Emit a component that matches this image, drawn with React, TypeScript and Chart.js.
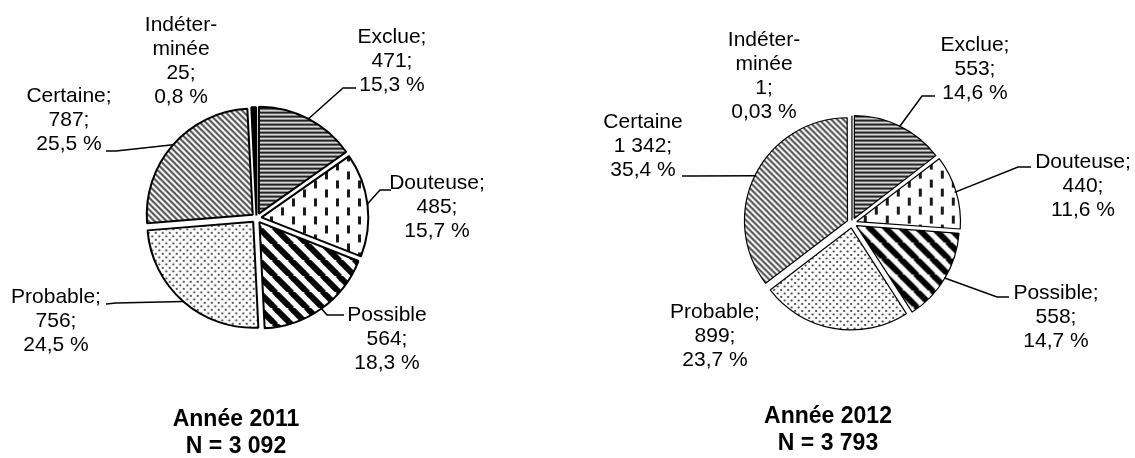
import React, { useEffect, useRef } from "react";
import { Chart, registerables } from "chart.js";

Chart.register(...registerables);

// ---------- DATA ----------
const categories = ["Exclue", "Douteuse", "Possible", "Probable", "Certaine", "Indéterminée"];
const values2011 = [471, 485, 564, 756, 787, 25];
const values2012 = [553, 440, 558, 899, 1342, 1];
const labels2011 = [
  ["Exclue;", "471;", "15,3 %"],
  ["Douteuse;", "485;", "15,7 %"],
  ["Possible", "564;", "18,3 %"],
  ["Probable;", "756;", "24,5 %"],
  ["Certaine;", "787;", "25,5 %"],
  ["Indéter-", "minée", "25;", "0,8 %"],
];
const labels2012 = [
  ["Exclue;", "553;", "14,6 %"],
  ["Douteuse;", "440;", "11,6 %"],
  ["Possible;", "558;", "14,7 %"],
  ["Probable;", "899;", "23,7 %"],
  ["Certaine", "1 342;", "35,4 %"],
  ["Indéter-", "minée", "1;", "0,03 %"],
];
const titles2011 = ["Année 2011", "N = 3 092"];
const titles2012 = ["Année 2012", "N = 3 793"];

// ---------- LAYOUT (positions only) ----------
type LabelPos = { x: number; y: number; leader: number[] | null };
const layout2011: LabelPos[] = [
  { x: 392, y: 37, leader: [356, 88, 343, 88] },
  { x: 437, y: 183, leader: [391, 190, 380, 190] },
  { x: 387, y: 315, leader: [344, 315, 327, 315] },
  { x: 56, y: 297, leader: [106, 304, 116, 303] },
  { x: 69, y: 96, leader: [106, 151, 116, 151] },
  { x: 181, y: 25, leader: null },
];
const layout2012: LabelPos[] = [
  { x: 975, y: 45, leader: [935, 96, 922, 96] },
  { x: 1083, y: 162, leader: [1031, 167, 1018, 167] },
  { x: 1056, y: 293, leader: [1009, 297, 997, 297] },
  { x: 715, y: 312, leader: null },
  { x: 643, y: 122, leader: [682, 176, 692, 176] },
  { x: 764, y: 40, leader: null },
];
const W = 1135;
const H = 458;
const LINE_H = 24;
const FONT = '21px "Liberation Sans", Arial, sans-serif';
const BOLD = 'bold 23px "Liberation Sans", Arial, sans-serif';

function makePattern(w: number, h: number, draw: (g: CanvasRenderingContext2D) => void) {
  const c = document.createElement("canvas");
  c.width = w;
  c.height = h;
  const g = c.getContext("2d")!;
  draw(g);
  const ctx = document.createElement("canvas").getContext("2d")!;
  return ctx.createPattern(c, "repeat") as CanvasPattern;
}

function diag(g: CanvasRenderingContext2D, s: number, lw: number, color: string) {
  g.fillStyle = "#fff";
  g.fillRect(0, 0, s, s);
  g.strokeStyle = color;
  g.lineWidth = lw;
  for (let k = -1; k <= 1; k++) {
    g.beginPath();
    g.moveTo(k * s - 1, -1);
    g.lineTo(k * s + s + 1, s + 1);
    g.stroke();
  }
}

function makePatterns() {
  const exclue = makePattern(4, 4, (g) => {
    g.fillStyle = "#d4d4d4";
    g.fillRect(0, 0, 4, 4);
    g.fillStyle = "#222";
    g.fillRect(0, 0, 4, 2);
  });
  const douteuse = makePattern(22, 18, (g) => {
    g.fillStyle = "#fff";
    g.fillRect(0, 0, 22, 18);
    g.fillStyle = "#1a1a1a";
    g.fillRect(1, 1, 3, 8);
    g.fillRect(12, 10, 3, 8);
  });
  const possible = makePattern(16, 16, (g) => diag(g, 16, 6, "#000"));
  const probable = makePattern(7, 7, (g) => {
    g.fillStyle = "#fff";
    g.fillRect(0, 0, 7, 7);
    g.fillStyle = "#333";
    g.beginPath();
    g.arc(1.5, 1.5, 1.1, 0, Math.PI * 2);
    g.fill();
    g.beginPath();
    g.arc(5, 5, 1.1, 0, Math.PI * 2);
    g.fill();
  });
  const certaine = makePattern(6, 6, (g) => diag(g, 6, 2, "#4a4a4a"));
  return [exclue, douteuse, possible, probable, certaine, "#000"];
}

function labelPlugin(texts: string[][], pos: LabelPos[], titles: string[], titleX: number, titleY: number, lw: number) {
  return {
    id: "pieLabels",
    afterDraw(chart: any) {
      const ctx: CanvasRenderingContext2D = chart.ctx;
      const meta = chart.getDatasetMeta(0);
      ctx.save();
      ctx.fillStyle = "#000";
      ctx.strokeStyle = "#000";
      ctx.textAlign = "center";
      ctx.textBaseline = "middle";
      ctx.font = FONT;
      texts.forEach((lines, i) => {
        const p = pos[i];
        lines.forEach((t, j) => ctx.fillText(t, p.x, p.y + j * LINE_H));
        if (p.leader) {
          const arc = meta.data[i];
          const { x, y, startAngle, endAngle, outerRadius } = arc.getProps(
            ["x", "y", "startAngle", "endAngle", "outerRadius"],
            true
          );
          const mid = (startAngle + endAngle) / 2;
          const off = (arc.options.offset || 0) / 4;
          const ex = x + Math.cos(mid) * (outerRadius + off);
          const ey = y + Math.sin(mid) * (outerRadius + off);
          ctx.lineWidth = lw;
          ctx.beginPath();
          ctx.moveTo(p.leader[0], p.leader[1]);
          ctx.lineTo(p.leader[2], p.leader[3]);
          ctx.lineTo(ex, ey);
          ctx.stroke();
        }
      });
      ctx.font = BOLD;
      titles.forEach((t, j) => ctx.fillText(t, titleX, titleY + j * 27));
      ctx.restore();
    },
  };
}

function PieCanvas(props: {
  values: number[];
  texts: string[][];
  pos: LabelPos[];
  titles: string[];
  cx: number;
  cy: number;
  r: number;
  border: number;
  titleX: number;
  titleY: number;
}) {
  const ref = useRef<HTMLCanvasElement>(null);
  useEffect(() => {
    const { values, texts, pos, titles, cx, cy, r, border, titleX, titleY } = props;
    const padL = Math.max(0, 2 * cx - W);
    const padR = Math.max(0, W - 2 * cx);
    const padT = Math.max(0, 2 * cy - H);
    const padB = Math.max(0, H - 2 * cy);
    const chart = new Chart(ref.current!, {
      type: "pie",
      data: {
        labels: categories,
        datasets: [
          {
            data: values,
            backgroundColor: makePatterns() as any,
            borderColor: "#000",
            borderWidth: border,
            offset: [20, 20, 20, 20, 20, 10],
            radius: r,
          } as any,
        ],
      },
      options: {
        responsive: false,
        animation: false,
        radius: r,
        layout: { padding: { left: padL, right: padR, top: padT, bottom: padB } },
        plugins: { legend: { display: false }, tooltip: { enabled: false } },
      } as any,
      plugins: [labelPlugin(texts, pos, titles, titleX, titleY, 1.5)],
    });
    return () => chart.destroy();
  }, []);
  return (
    <canvas
      ref={ref}
      width={W}
      height={H}
      style={{ position: "absolute", left: 0, top: 0, width: W, height: H }}
    />
  );
}

export default function App() {
  return (
    <div style={{ position: "absolute", left: 0, top: 0, width: W, height: H, background: "#fff" }}>
      <PieCanvas
        values={values2011}
        texts={labels2011}
        pos={layout2011}
        titles={titles2011}
        cx={256.5}
        cy={218}
        r={106}
        border={2}
        titleX={236}
        titleY={420}
      />
      <PieCanvas
        values={values2012}
        texts={labels2012}
        pos={layout2012}
        titles={titles2012}
        cx={852}
        cy={223}
        r={102}
        border={1.2}
        titleX={828}
        titleY={417}
      />
    </div>
  );
}
